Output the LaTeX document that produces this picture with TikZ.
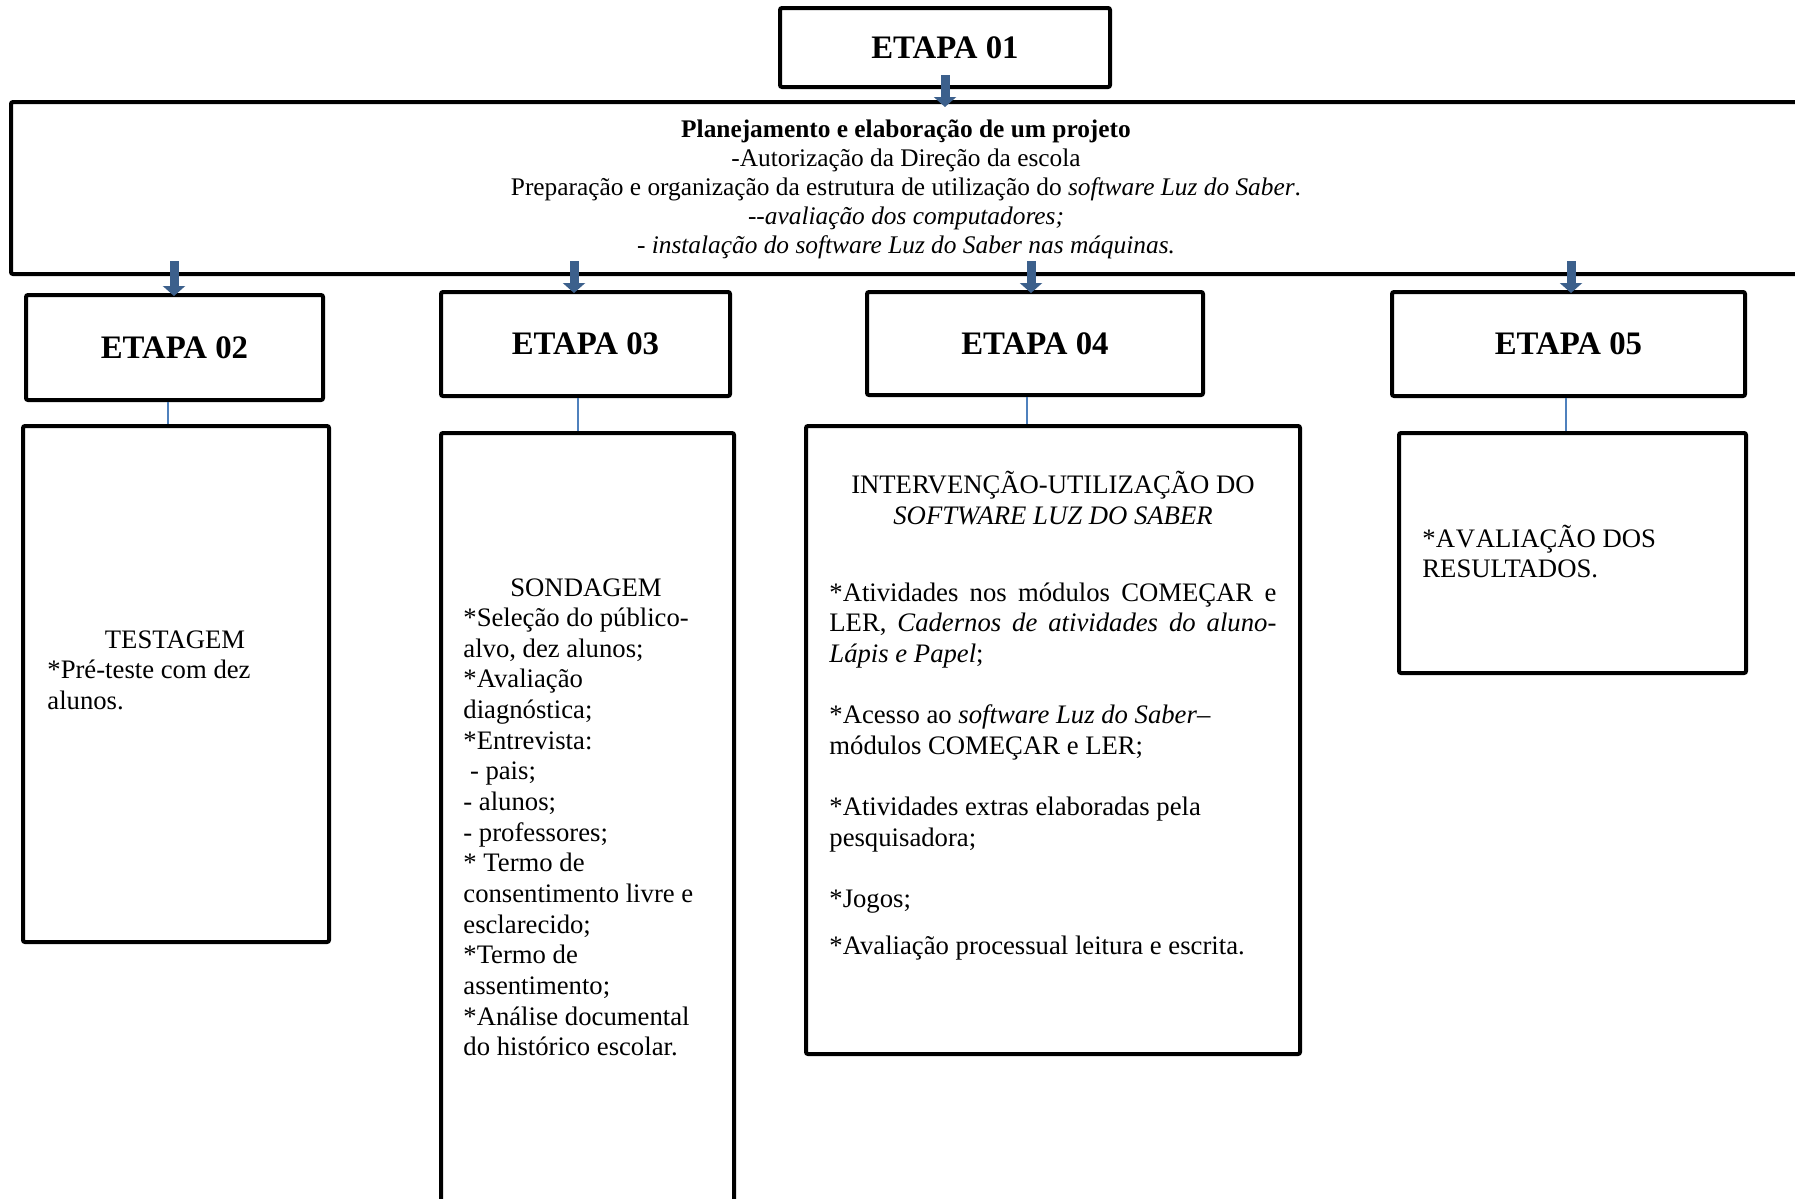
\documentclass[tikz,border=0pt]{standalone}
\usepackage{fontspec}
\setmainfont{Liberation Serif}
\usetikzlibrary{arrows.meta,calc}
\definecolor{arrowblue}{RGB}{60,96,140}
\definecolor{linkblue}{RGB}{79,129,189}
\begin{document}
\begin{tikzpicture}[x=0.5pt,y=-0.5pt,
  box/.style={draw=black, line width=2pt, rounded corners=1pt, inner sep=0pt},
  etapa/.style={box, font=\fontsize{16.4}{18.5}\selectfont\bfseries},
  barrow/.style={draw=arrowblue, line width=4.5pt, -{Triangle[width=11pt,length=5pt]}},
  link/.style={draw=linkblue, line width=0.75pt},
  txt/.style={font=\fontsize{13.35}{15.4}\selectfont, inner sep=0pt, anchor=base west},
  ctxt/.style={txt, anchor=base},
  btxt/.style={font=\fontsize{12.68}{14.6}\selectfont, inner sep=0pt, anchor=base}]
\useasboundingbox (0,0) rectangle (1795,1199);

% boxes
\node[etapa, minimum width=165pt, minimum height=39.5pt] (e01) at (945,47.5) {ETAPA 01};
\node[box, minimum width=895pt, minimum height=86pt] (big) at (906,188) {};
\node[etapa, minimum width=148.5pt, minimum height=52.5pt] (e02) at (174.5,347.5) {ETAPA 02};
\node[etapa, minimum width=144.5pt, minimum height=52pt] (e03) at (585.5,344) {ETAPA 03};
\node[etapa, minimum width=168pt, minimum height=51.5pt] (e04) at (1035,343.5) {ETAPA 04};
\node[etapa, minimum width=176.5pt, minimum height=52pt] (e05) at (1568.5,344) {ETAPA 05};
\node[box, minimum width=153pt, minimum height=258pt] (b2) at (176,684) {};
\node[box, minimum width=146.5pt, minimum height=398.5pt] (b3) at (587.5,831.5) {};
\node[box, minimum width=247pt, minimum height=314pt] (b4) at (1053,740) {};
\node[box, minimum width=173.5pt, minimum height=120pt] (b5) at (1572.5,553) {};

% arrow columns
\coordinate (a2) at (174,0);
\coordinate (a3) at (574,0);
\coordinate (a4) at (1031,0);
\coordinate (a5) at (1571,0);
\coordinate (c2) at (168,0);
\coordinate (c3) at (578,0);
\coordinate (c4) at (1027,0);
\coordinate (c5) at (1566,0);

% block arrows
\draw[barrow] ($(e01.south)+(0,-14)$) -- ($(e01.south |- big.north)+(0,7)$);
\draw[barrow] ($(big.south -| a2)+(0,-15)$) -- ($(e02.north -| a2)+(0,3)$);
\draw[barrow] ($(big.south -| a3)+(0,-15)$) -- ($(e03.north -| a3)+(0,3)$);
\draw[barrow] ($(big.south -| a4)+(0,-15)$) -- ($(e04.north -| a4)+(0,3)$);
\draw[barrow] ($(big.south -| a5)+(0,-15)$) -- ($(e05.north -| a5)+(0,3)$);

% thin links
\draw[link] (e02.south -| c2) -- (b2.north -| c2);
\draw[link] (e03.south -| c3) -- (b3.north -| c3);
\draw[link] (e04.south -| c4) -- (b4.north -| c4);
\draw[link] (e05.south -| c5) -- (b5.north -| c5);

% big box text
\node[btxt] (p1) at (906,137) {\textbf{Planejamento e elaboração de um projeto}};
\node[btxt] (p2) at (906,166) {-Autorização da Direção da escola};
\node[btxt] (p3) at (906,195) {Preparação e organização da estrutura de utilização do \textit{software Luz do Saber}.};
\node[btxt] (p4) at (906,224) {\textit{-{}-avaliação dos computadores;}};
\node[btxt] (p5) at (906,253) {\textit{- instalação do software Luz do Saber nas máquinas.}};

% etapa 02 text
\node[ctxt] (t0) at (175,648) {TESTAGEM};
\node[txt] (t1) at (47,678.7) {*Pré-teste com dez};
\node[txt] (t2) at (47,709.3) {alunos.};

% etapa 03 text
\node[ctxt] (s0) at (586,596) {SONDAGEM};
\foreach \t [count=\i] in {{*Seleção do público-},{alvo, dez alunos;},{*Avaliação},{diagnóstica;},{*Entrevista:},{\hspace*{3.3pt}- pais;},{- alunos;},{- professores;},{* Termo de},{consentimento livre e},{esclarecido;},{*Termo de},{assentimento;},{*Análise documental},{do histórico escolar.}}
  \node[txt] (s\i) at (463,{596+30.65*\i}) {\t};

% etapa 04 text
\node[ctxt] (i1) at (1053,493) {INTERVENÇÃO-UTILIZAÇÃO DO};
\node[ctxt] (i2) at (1053,524) {\textit{SOFTWARE LUZ DO SABER}};
\node[txt] (i3) at (829,601) {\makebox[223.5pt][s]{*Atividades nos módulos COMEÇAR e}};
\node[txt] (i4) at (829,631.6) {\makebox[223.5pt][s]{LER, \textit{Cadernos de atividades do aluno-}}};
\node[txt] (i5) at (829,662.3) {\textit{Lápis e Papel};};
\node[txt] (i6) at (829,723.6) {*Acesso ao \textit{software Luz do Saber}–};
\node[txt] (i7) at (829,754.3) {módulos COMEÇAR e LER;};
\node[txt] (i8) at (829,815.6) {*Atividades extras elaboradas pela};
\node[txt] (i9) at (829,846.3) {pesquisadora;};
\node[txt] (i10) at (829,907.6) {*Jogos;};
\node[txt] (i11) at (829,954) {*Avaliação processual leitura e escrita.};

% etapa 05 text
\node[txt] (r1) at (1422,547) {*A\kern0.4pt V\kern0.4pt ALIAÇÃO DOS};
\node[txt] (r2) at (1422,577.6) {RESULTADOS.};
\end{tikzpicture}
\end{document}
